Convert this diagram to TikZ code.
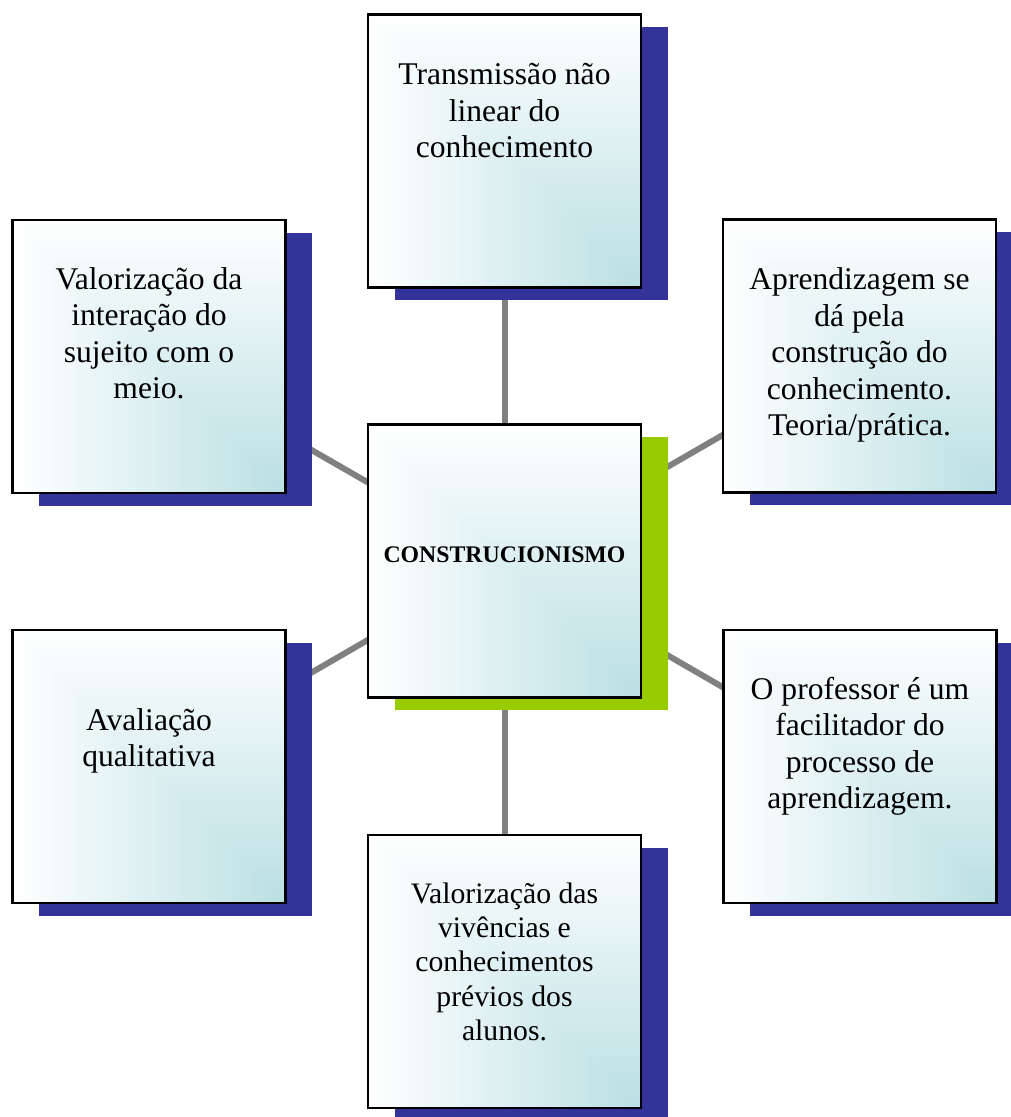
\documentclass[tikz,border=0pt]{standalone}
\usepackage{fontspec}
\setmainfont{Liberation Serif}
\usetikzlibrary{shadows,calc}
\definecolor{navy}{RGB}{51,51,153}
\definecolor{lime}{RGB}{153,204,0}
\definecolor{conngray}{RGB}{128,128,128}
\pgfdeclarelayer{bg}
\pgfsetlayers{bg,main}
\pgfdeclarefunctionalshading{boxgrad}{\pgfpoint{-50bp}{-50bp}}{\pgfpoint{50bp}{50bp}}{}{
  25 exch sub 50 div
  exch 25 add 50 div
  2 copy gt {exch} if pop
  dup 0 lt {pop 0} if
  dup 1 gt {pop 1} if
  dup dup
  0.27 mul 1 exch sub
  3 1 roll
  0.125 mul 1 exch sub
  exch
  0.11 mul 1 exch sub
}
\newcommand\fstrut{\rule{0pt}{25pt}}
\tikzset{
  box/.style={draw=black, line width=2.2pt, minimum width=273pt, minimum height=273pt,
    inner sep=0pt, shade, shading=boxgrad,
    drop shadow={shadow xshift=26.5pt, shadow yshift=-12.5pt, fill=#1, opacity=1}},
  box/.default=navy,
  lbl/.style={anchor=north, inner sep=0pt, align=center, font=\fontsize{31.6}{36.5}\selectfont},
  conn/.style={draw=conngray, line width=6pt},
}
\begin{document}
\begin{tikzpicture}[x=1pt,y=-1pt]
\useasboundingbox (0,0) rectangle (1011,1117);
\clip (0,0) rectangle (1011,1117);
% boxes
\node[box] (top) at (504.5,151) {};
\node[box] (lt) at (149,356.5) {};
\node[box] (rt) at (859.5,356) {};
\node[box=lime] (ctr) at (504.5,561) {};
\node[box] (lb) at (149,766.5) {};
\node[box] (rb) at (860,766.5) {};
\node[box] (bot) at (504.5,971.5) {};
% texts
\node[lbl] (ttop) at ($(top.north)+(0,46)$) {\fstrut Transmissão não\\linear do\\conhecimento};
\node[lbl] (tlt) at ($(lt.north)+(0,45)$) {\fstrut Valorização da\\interação do\\sujeito com o\\meio.};
\node[lbl] (trt) at ($(rt.north)+(0,46)$) {\fstrut Aprendizagem se\\dá pela\\construção do\\conhecimento.\\Teoria/prática.};
\node[lbl] (tlb) at ($(lb.north)+(0,76)$) {\fstrut Avaliação\\qualitativa};
\node[lbl] (trb) at ($(rb.north)+(0,45)$) {\fstrut O professor é um\\facilitador do\\processo de\\aprendizagem.};
\node[lbl, font=\fontsize{29.7}{34.3}\selectfont] (tbot) at ($(bot.north)+(0,44)$) {\fstrut Valorização das\\vivências e\\conhecimentos\\prévios dos\\alunos.};
\node[anchor=base, inner sep=0pt, font=\fontsize{23.8}{28}\selectfont\bfseries] (tctr) at (504.5,562) {CONSTRUCIONISMO};
% connectors
\begin{pgfonlayer}{bg}
\draw[conn] (ctr.center) -- (top.center);
\draw[conn] (ctr.center) -- (bot.center);
\draw[conn] (ctr.center) -- (lt.center);
\draw[conn] (ctr.center) -- (rt.center);
\draw[conn] (ctr.center) -- (lb.center);
\draw[conn] (ctr.center) -- (rb.center);
\end{pgfonlayer}
\end{tikzpicture}
\end{document}
